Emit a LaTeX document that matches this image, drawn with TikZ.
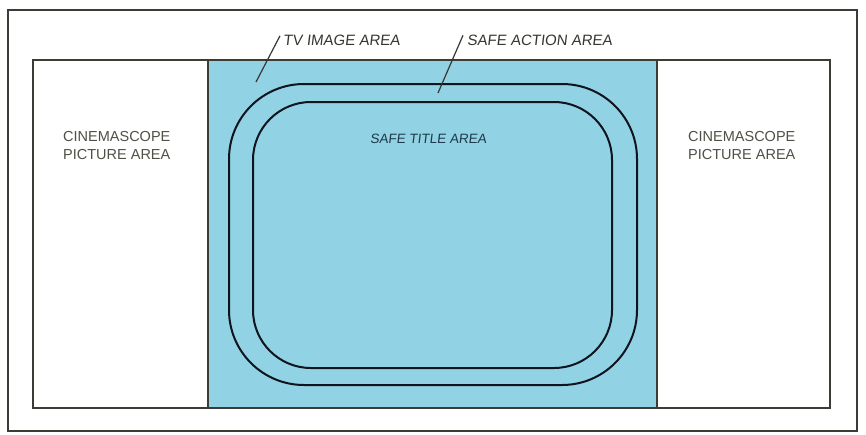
\documentclass[tikz,border=0pt]{standalone}
\usepackage{fontspec}
\setmainfont{Liberation Sans}
\newfontfamily\slfont[FakeSlant=0.12]{Liberation Sans}
\definecolor{tvblue}{RGB}{145,210,228}
\definecolor{framegray}{RGB}{60,60,55}
\definecolor{labgray}{RGB}{55,55,50}
\definecolor{scopegray}{RGB}{80,80,70}
\definecolor{titleink}{RGB}{30,58,75}
\definecolor{ringink}{RGB}{15,20,30}
\tikzset{
  frameline/.style={draw=framegray, line width=1.2pt},
  ringline/.style={draw=ringink, line width=2pt},
  leader/.style={draw=labgray, line width=1.2pt},
  toplabel/.style={anchor=base west, inner sep=0pt, text=labgray, font=\slfont\fontsize{15}{18}\selectfont, text height=11pt, text depth=0pt},
  scopelabel/.style={anchor=base west, inner sep=0pt, text=scopegray, align=left, font=\fontsize{14.5}{18}\selectfont},
  titlelabel/.style={anchor=base west, inner sep=0pt, text=titleink, font=\slfont\fontsize{13.5}{16}\selectfont}
}
\begin{document}
\begin{tikzpicture}[x=1pt,y=-1pt]
\useasboundingbox (0,0) rectangle (866,434);
\fill[white] (0,0) rectangle (866,434);
% outer frame
\draw[frameline] (8,10) rectangle (857,431);
% TV image area (blue)
\fill[tvblue] (208,60) rectangle (657,408);
% cinemascope frame
\draw[frameline] (33,60) rectangle (830,408);
\draw[frameline] (208,60) -- (208,408);
\draw[frameline] (657,60) -- (657,408);
% safe action and safe title areas
\draw[ringline, rounded corners=75pt] (229,84) rectangle (637,385);
\draw[ringline, rounded corners=58pt] (253,102) rectangle (612,368);
% labels
\node[toplabel] (tv) at (283,45.5) {TV IMAGE AREA};
\node[toplabel] (sa) at (467,45.5) {SAFE ACTION AREA};
\node[titlelabel] (st) at (370,143) {SAFE TITLE AREA};
\node[scopelabel] (cl) at (63,159.5) {CINEMASCOPE\\PICTURE AREA};
\node[scopelabel] (cr) at (688,159.5) {CINEMASCOPE\\PICTURE AREA};
% leaders
\coordinate (tvpt) at (256,82);
\coordinate (sapt) at (438,93);
\draw[leader] (tvpt) -- ([shift={(-3pt,-1.5pt)}]tv.north west);
\draw[leader] (sapt) -- ([shift={(-4pt,-1pt)}]sa.north west);
\end{tikzpicture}
\end{document}
